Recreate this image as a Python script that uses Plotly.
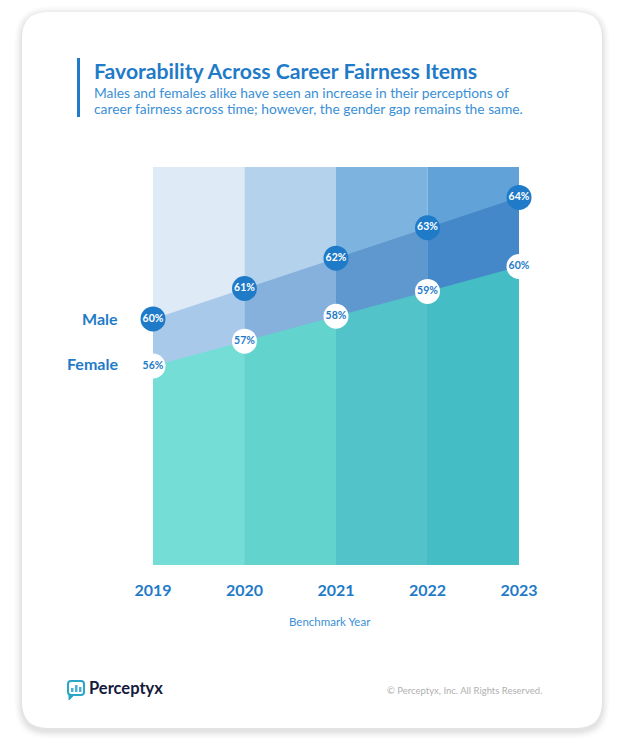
import plotly.graph_objects as go

# ---------------- data ----------------
years = [2019, 2020, 2021, 2022, 2023]
year_labels = ["2019", "2020", "2021", "2022", "2023"]
male = [60, 61, 62, 63, 64]
female = [56, 57, 58, 59, 60]
series_names = ["Male", "Female"]

title = "Favorability Across Career Fairness Items"
subtitle_lines = ["Males and females alike have seen an increase in their perceptions of",
                  "career fairness across time; however, the gender gap remains the same."]
axis_title = "Benchmark Year"
brand = "Perceptyx"
copyright_txt = "© Perceptyx, Inc. All Rights Reserved."

# ---------------- styles ----------------
W, H = 620, 755
L, R, T, B = 153, 519, 167, 565  # plot area in pixels
BLUE = "#1f7bc8"
LIGHTBLUE = "#3a8fd6"
top_cols = ["#deebf7", "#b4d2ec", "#7db3df", "#61a3d9"]
male_cols = ["#a8c9ea", "#85b1dc", "#5e98cf", "#4588c9"]
female_cols = ["#74ddd5", "#63d3ce", "#52c4c9", "#44bdc5"]
FONT = "Lato"


def px(x):
    return (x - L) / (R - L)


def py(y):
    return (B - y) / (B - T)


def rrect(x0, y0, x1, y1, r):
    X0, X1 = px(x0), px(x1)
    Y0, Y1 = py(y0), py(y1)
    rx = r / (R - L)
    ry = r / (B - T)
    return (f"M {X0+rx},{Y0} L {X1-rx},{Y0} Q {X1},{Y0} {X1},{Y0-ry} "
            f"L {X1},{Y1+ry} Q {X1},{Y1} {X1-rx},{Y1} L {X0+rx},{Y1} "
            f"Q {X0},{Y1} {X0},{Y1+ry} L {X0},{Y0-ry} Q {X0},{Y0} {X0+rx},{Y0} Z")


fig = go.Figure()

for i in range(len(years) - 1):
    fig.add_trace(go.Scatter(
        x=[years[i], years[i + 1]], y=[male[i], male[i + 1]],
        mode="lines", line=dict(width=0), fill="tozeroy",
        fillcolor=male_cols[i], hoverinfo="skip", showlegend=False, yaxis="y"))
for i in range(len(years) - 1):
    fig.add_trace(go.Scatter(
        x=[years[i], years[i + 1]], y=[female[i], female[i + 1]],
        mode="lines", line=dict(width=0), fill="tozeroy",
        fillcolor=female_cols[i], hoverinfo="skip", showlegend=False, yaxis="y2"))

fig.add_trace(go.Scatter(
    x=years, y=male, mode="markers+text", name=series_names[0],
    marker=dict(size=25, color=BLUE),
    text=[f"{v}%" for v in male], textposition="middle center",
    textfont=dict(family=FONT, size=10.5, color="white", weight="bold"),
    cliponaxis=False, showlegend=False, yaxis="y"))
fig.add_trace(go.Scatter(
    x=years, y=female, mode="markers+text", name=series_names[1],
    marker=dict(size=25, color="white"),
    text=[f"{v}%" for v in female], textposition="middle center",
    textfont=dict(family=FONT, size=10.5, color=BLUE, weight="bold"),
    cliponaxis=False, showlegend=False, yaxis="y2"))

shapes = []
for k, a in enumerate([0.006, 0.008, 0.010, 0.012, 0.014, 0.016, 0.018, 0.02]):
    g = 8 - k
    shapes.append(dict(type="path", xref="paper", yref="paper", layer="below",
                       path=rrect(22 - g, 12 - g + 2, 602 + g, 728 + g + 3, 26 + g),
                       fillcolor=f"rgba(0,0,0,{a})", line=dict(width=0)))
shapes.append(dict(type="path", xref="paper", yref="paper", layer="below",
                   path=rrect(22, 12, 602, 728, 26),
                   fillcolor="white", line=dict(width=0)))
for i in range(len(years) - 1):
    shapes.append(dict(type="rect", xref="x", yref="paper", layer="below",
                       x0=years[i], x1=years[i + 1], y0=0, y1=1,
                       fillcolor=top_cols[i], line=dict(width=0)))
shapes.append(dict(type="rect", xref="paper", yref="paper", layer="above",
                   x0=px(77), x1=px(80), y0=py(117), y1=py(58),
                   fillcolor=BLUE, line=dict(width=0)))
# logo icon
shapes.append(dict(type="path", xref="paper", yref="paper", layer="above",
                   path=rrect(68, 681, 84, 695, 3),
                   fillcolor="white", line=dict(color="#2aa6c8", width=2)))
shapes.append(dict(type="path", xref="paper", yref="paper", layer="above",
                   path=f"M {px(69)},{py(694)} L {px(69)},{py(700)} L {px(74)},{py(695)} Z",
                   fillcolor="#2aa6c8", line=dict(color="#2aa6c8", width=1)))
for bx, bt in [(71, 688), (75, 685), (79, 687)]:
    shapes.append(dict(type="rect", xref="paper", yref="paper", layer="above",
                       x0=px(bx), x1=px(bx + 2.5), y0=py(692), y1=py(bt),
                       fillcolor="#4aaed6", line=dict(width=0)))

annotations = [
    dict(text=f"<b>{title}</b>", x=px(92), y=py(71), xref="paper", yref="paper",
         xanchor="left", yanchor="middle", showarrow=False,
         font=dict(family=FONT, size=21.2, color=BLUE)),
    dict(text=subtitle_lines[0], x=px(92), y=py(92.5), xref="paper", yref="paper",
         xanchor="left", yanchor="middle", showarrow=False,
         font=dict(family=FONT, size=13.8, color=LIGHTBLUE)),
    dict(text=subtitle_lines[1], x=px(92), y=py(108.5), xref="paper", yref="paper",
         xanchor="left", yanchor="middle", showarrow=False,
         font=dict(family=FONT, size=13.8, color=LIGHTBLUE)),
    dict(text=f"<b>{series_names[0]}</b>", x=px(120), y=py(318), xref="paper", yref="paper",
         xanchor="right", yanchor="middle", showarrow=False,
         font=dict(family=FONT, size=16, color=BLUE)),
    dict(text=f"<b>{series_names[1]}</b>", x=px(120), y=py(363), xref="paper", yref="paper",
         xanchor="right", yanchor="middle", showarrow=False,
         font=dict(family=FONT, size=16, color=BLUE)),
    dict(text=axis_title, x=px(330), y=py(621), xref="paper", yref="paper",
         xanchor="center", yanchor="middle", showarrow=False,
         font=dict(family=FONT, size=11.5, color=LIGHTBLUE)),
    dict(text=f"<b>{brand}</b>", x=px(87), y=py(688), xref="paper", yref="paper",
         xanchor="left", yanchor="middle", showarrow=False,
         font=dict(family=FONT, size=16.5, color="#141a3c")),
    dict(text=copyright_txt, x=px(544), y=py(690), xref="paper", yref="paper",
         xanchor="right", yanchor="middle", showarrow=False,
         font=dict(family=FONT, size=9.5, color="#b0b0b0")),
]

fig.update_layout(
    width=W, height=H,
    margin=dict(l=L, r=W - R, t=T, b=H - B, pad=0),
    paper_bgcolor="white", plot_bgcolor="rgba(0,0,0,0)",
    showlegend=False,
    xaxis=dict(range=[years[0], years[-1]], tickvals=years, ticktext=year_labels,
               showgrid=False, zeroline=False, showline=False, ticks="",
               ticklabelstandoff=14,
               tickfont=dict(family=FONT, size=16, color=BLUE, weight="bold"),
               fixedrange=True),
    yaxis=dict(range=[51.9, 65.0], visible=False, fixedrange=True),
    yaxis2=dict(range=[48.0, 64.0], visible=False, overlaying="y", fixedrange=True),
    shapes=shapes, annotations=annotations,
)

fig.write_html("out.html", config={"displayModeBar": False},
               post_script="document.body.style.margin='0';document.body.style.overflow='hidden';")
